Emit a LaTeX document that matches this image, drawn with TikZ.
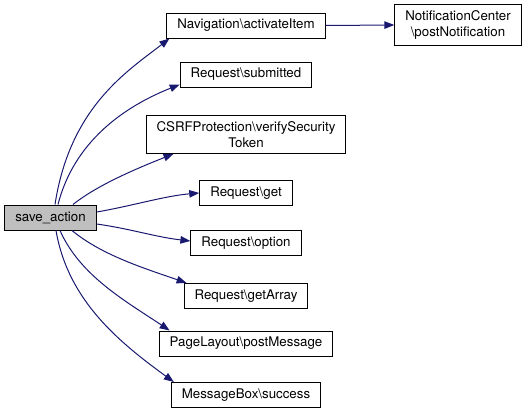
\documentclass[tikz,border=0pt]{standalone}
\usepackage{fontspec}
\setmainfont{TeX Gyre Heros}
\usetikzlibrary{arrows.meta}
\definecolor{callblue}{RGB}{25,25,112}
\definecolor{rootgray}{RGB}{191,191,191}
\tikzset{
  fnbox/.style={draw=black, fill=white, line width=1pt, align=center,
    font=\fontsize{13.3}{15.5}\selectfont, minimum height=25pt,
    inner xsep=10.5pt, inner ysep=6pt},
  rootbox/.style={fnbox, fill=rootgray},
  call/.style={callblue, line width=1pt, -{Triangle[length=10pt,width=7.5pt]}},
}

\begin{document}
\begin{tikzpicture}[x=1pt,y=-1pt]
\useasboundingbox (0,0) rectangle (528,415);
% function boxes
\node[rootbox] (save) at (50.5,217.5) {save\_action};
\node[fnbox] (nav)   at (246,25.5)  {Navigation\textbackslash activateItem};
\node[fnbox] (notif) at (458,25)    {NotificationCenter\\\textbackslash postNotification};
\node[fnbox] (sub)   at (246,74.5)  {Request\textbackslash submitted};
\node[fnbox] (csrf)  at (246,134.5) {CSRFProtection\textbackslash verifySecurity\\Token};
\node[fnbox] (get)   at (246,193)   {Request\textbackslash get};
\node[fnbox] (opt)   at (246,243)   {Request\textbackslash option};
\node[fnbox] (getA)  at (246,296)   {Request\textbackslash getArray};
\node[fnbox] (pm)    at (246,343.5) {PageLayout\textbackslash postMessage};
\node[fnbox] (succ)  at (246,395)   {MessageBox\textbackslash success};
% calls
\draw[call] ([xshift=4.5pt]save.north) .. controls +(15,-98) and +(-41,32) .. ([xshift=3pt]nav.south west);
\draw[call] ([xshift=7.5pt]save.north) .. controls +(18,-70) and +(-45,18) .. ([yshift=3pt]sub.south west);
\draw[call] ([xshift=22.5pt]save.north) .. controls +(25,-20) and +(-35,14) .. ([xshift=28pt]csrf.south west);
\draw[call] ([yshift=5.5pt]save.east) .. controls +(35,-6) and +(-35,3) .. (get.west);
\draw[call] ([yshift=-6.5pt]save.east) .. controls +(35,5) and +(-35,-4) .. ([yshift=2pt]opt.west);
\draw[call] ([xshift=21.5pt]save.south) .. controls +(30,25) and +(-40,-14) .. ([xshift=3pt]getA.north west);
\draw[call] ([xshift=9.5pt]save.south) .. controls +(20,45) and +(-45,-30) .. ([xshift=11pt]pm.north west);
\draw[call] ([xshift=5.5pt]save.south) .. controls +(12,70) and +(-55,-40) .. ([xshift=3pt]succ.north west);
\draw[call] (nav.east) -- (notif.west);
\end{tikzpicture}
\end{document}
